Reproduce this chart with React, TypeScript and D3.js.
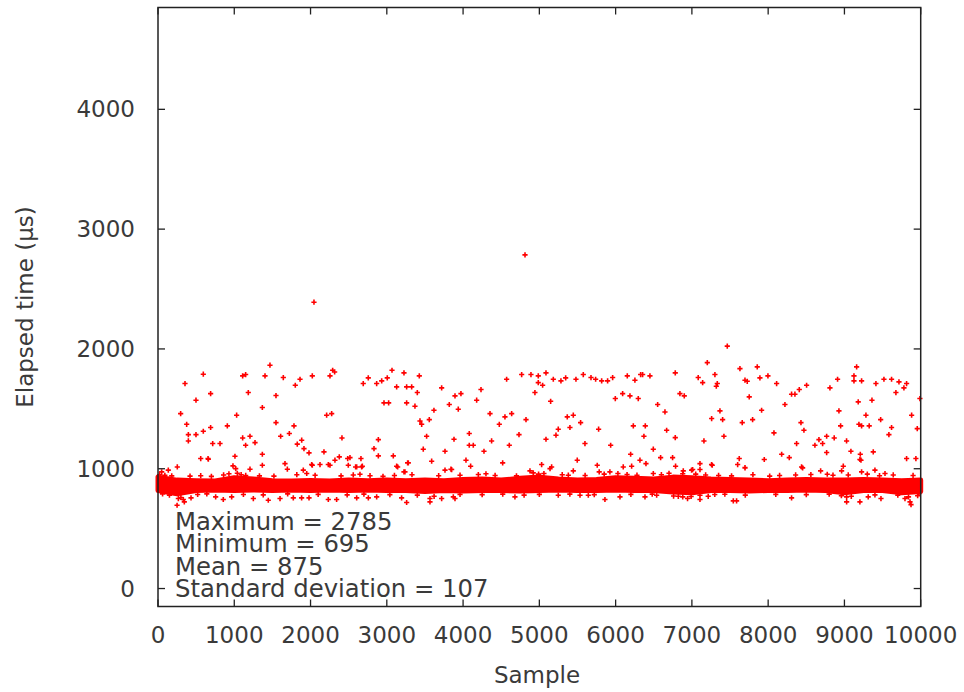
import React from 'react';
import * as d3 from 'd3';

// dense band of samples: envelope read every 250 samples
const bandSamples = d3.range(0, 10001, 250);
const bandTop = [930, 905, 900, 897, 925, 915, 900, 897, 902, 897, 905, 900, 905, 900, 905, 900, 910, 915, 905, 920, 930,
    915, 905, 910, 925, 920, 915, 930, 925, 915, 910, 905, 900, 905, 910, 905, 905, 910, 905, 900, 905];
const bandBottom = [818, 790, 818, 822, 818, 822, 818, 822, 818, 822, 818, 822, 818, 818, 810, 818, 815, 818, 818, 815, 818,
    822, 818, 818, 822, 818, 818, 805, 800, 818, 818, 815, 818, 818, 822, 818, 800, 818, 818, 800, 810];

// isolated samples above the band [sample, µs]
const highPoints: [number, number][] = [
    [354, 1711], [594, 1789], [498, 1572], [690, 1627], [297, 1460], [376, 1371], [398, 1285], [398, 1232], [498, 1285], [594, 1313],
    [690, 1344], [717, 1210], [813, 1210], [560, 1085], [656, 1085], [909, 1358], [1031, 1447], [1009, 1104], [1110, 1775], [1149, 1786],
    [1184, 1636], [1110, 1257], [1206, 1271], [1149, 1196], [1272, 1218], [1403, 1775], [1468, 1864], [1368, 1511], [1547, 1611], [1547, 1385],
    [1368, 1121], [1368, 1029], [1608, 1271], [1643, 1761], [1722, 1294], [1665, 1043], [1783, 1358], [1800, 1697], [1862, 1747], [1826, 1205],
    [1884, 1238], [1914, 1168], [1980, 1132], [2023, 1775], [2023, 1029], [2045, 2390], [2211, 1447], [2277, 1460], [2176, 1141], [2255, 1775],
    [2290, 1822], [2316, 1808], [2255, 1029], [2320, 1071], [2377, 1099], [2412, 1257], [2487, 1085], [2517, 1093], [2591, 1015], [2661, 1085],
    [2679, 1021], [2691, 1711], [2757, 1758], [2832, 1168], [2889, 1243], [2889, 1107], [2867, 1711], [2933, 1733], [3006, 1758], [3068, 1822],
    [2963, 1550], [3024, 1550], [3129, 1683], [3085, 1107], [3129, 1021], [3225, 1800], [3260, 1683], [3326, 1683], [3426, 1775], [3400, 1636],
    [3260, 1550], [3369, 1522], [3282, 1049], [3225, 974], [3435, 1399], [3457, 1371], [3557, 1410], [3522, 1271], [3618, 1488], [3478, 1163],
    [3588, 1063], [3719, 1675], [3763, 1146], [3819, 1536], [3894, 1608], [3972, 1627], [3937, 1497], [3881, 1246], [3841, 996], [4081, 1294],
    [4081, 1196], [4134, 1196], [4038, 1071], [4099, 1021], [4178, 1572], [4235, 1661], [4274, 1146], [4353, 1460], [4475, 1371], [4549, 1433],
    [4637, 1460], [4571, 1747], [4374, 1232], [4606, 1196], [4519, 1049], [4733, 1285], [4768, 1786], [4812, 2785], [4825, 1410], [4890, 1786],
    [4986, 1775], [4986, 1719], [4942, 1636], [5087, 1800], [5030, 1035], [5087, 1246],
    [5043, 1697], [5148, 1563], [5183, 1747], [5283, 1733], [5345, 1758], [5218, 1280], [5248, 1330], [5366, 1433], [5445, 1447], [5401, 1344],
    [5480, 1747], [5541, 1385], [5576, 1786], [5598, 1210], [5677, 1761], [5738, 1747], [5817, 1733], [5895, 1733], [5961, 1761], [5777, 1330],
    [5935, 1196], [5996, 1586], [6092, 1627], [6153, 1775], [6188, 1608], [6253, 1739], [6297, 1586], [6328, 1786], [6354, 1786], [6450, 1775],
    [6232, 1358], [6389, 1358], [6371, 1271], [6197, 1121], [6319, 1071], [6398, 1043], [6494, 1163], [6551, 1536], [6590, 1093], [6647, 1474],
    [6669, 1321], [6747, 1093], [6782, 1260], [6782, 1800], [6843, 1627], [6900, 1608], [7010, 993], [7083, 1761], [7141, 1719], [7106, 1043],
    [7158, 1232], [7202, 1886], [7259, 1419], [7302, 1786], [7333, 1711], [7320, 1689], [7368, 1483], [7403, 1410], [7420, 1271], [7267, 1029],
    [7464, 2023], [7630, 1836], [7621, 1085], [7600, 1035], [7696, 1739], [7726, 1730], [7752, 1600], [7660, 1385], [7796, 1410], [7696, 1010],
    [7857, 1850], [7892, 1758], [7997, 1775], [7914, 1488], [8076, 1299], [8111, 1711], [8177, 1121], [8220, 1536], [8277, 1093], [8307, 1622],
    [8351, 1622], [8408, 1661], [8504, 1697], [8373, 1210], [8430, 1385], [8469, 1321], [8452, 1007], [8613, 1196], [8666, 1243], [8714, 1210],
    [8767, 1271], [8767, 1135], [8866, 1257], [8810, 1675], [8910, 1747], [8928, 1483], [8950, 1358], [9028, 1232], [9085, 1146], [8985, 1021],
    [9125, 1775], [9125, 1733], [9160, 1850], [9225, 1733], [9181, 1558], [9190, 1371], [9225, 1358], [9282, 1447], [9325, 1358], [9361, 1572],
    [9208, 1121], [9217, 1071], [9378, 1141], [9413, 1711], [9475, 1410], [9518, 1747], [9618, 1747], [9583, 1285], [9618, 1344], [9675, 1636],
    [9715, 1725], [9780, 1675], [9815, 1711], [9881, 1447], [9937, 1085], [9955, 1335], [9990, 1586],
    [253, 1015], [660, 1079], [983, 1024], [1019, 1001], [1206, 996], [1696, 996], [1905, 988], [2015, 1035], [2124, 1035], [2233, 1035],
    [2495, 1029], [2605, 1015], [2670, 1015], [2648, 954], [3142, 1015], [3273, 1049], [3238, 974], [135, 988], [48, 974], [3763, 988],
    [3850, 993], [5140, 1001], [5445, 982], [5497, 1071], [5759, 1029], [5785, 974], [5925, 974], [6100, 1015], [6210, 1021], [6494, 960],
    [4877, 982], [5161, 1015], [6786, 1021], [6887, 982], [6996, 988], [7106, 993], [7258, 1035], [7697, 1007], [7949, 1077], [8438, 1015],
    [8688, 982], [8775, 954], [8963, 982], [9203, 1077], [9225, 974], [9400, 988], [9532, 960], [9815, 1085],
];

// samples hugging the band edges (ragged fringe)
const edgePoints: [number, number][] = [
    [20, 950], [90, 945], [180, 940], [420, 938], [560, 942], [700, 936], [860, 948], [930, 958], [1040, 962], [1090, 950],
    [1150, 944], [1330, 940], [1520, 938], [1820, 950], [1950, 960], [2060, 945], [2400, 940], [2560, 948], [2780, 942], [2950, 936],
    [3100, 944], [3330, 950], [3680, 942], [3960, 946], [4200, 952], [4300, 958], [4420, 944], [4700, 940], [4920, 965], [4990, 955],
    [5060, 960], [5300, 950], [5380, 946], [5600, 944], [5850, 955], [6030, 960], [6150, 952], [6280, 946], [6600, 950], [6700, 962],
    [6880, 958], [7050, 955], [7180, 948], [7350, 944], [7520, 940], [7800, 950], [8020, 938], [8150, 944], [8360, 948], [8560, 952],
    [8850, 946], [9050, 948], [9300, 955], [9460, 942], [9640, 948], [9900, 944],
    [60, 790], [150, 780], [300, 760], [520, 785], [640, 790], [1120, 785], [1380, 782], [1700, 790], [2100, 786], [2480, 782],
    [2700, 788], [3040, 784], [3400, 780], [3620, 770], [3960, 786], [4250, 784], [4520, 788], [4800, 780], [5000, 786], [5400, 788],
    [5720, 784], [6200, 786], [6480, 788], [6760, 772], [6880, 765], [6990, 768], [7300, 785], [7700, 780], [8100, 786], [8500, 784],
    [8800, 788], [8960, 775], [9090, 770], [9400, 782], [9700, 780], [9840, 765], [9960, 775],
];

// isolated samples below the band
const lowPoints: [number, number][] = [
    [250, 695], [267, 751], [332, 743], [433, 757], [345, 723], [756, 765], [856, 743], [966, 765], [1250, 751], [1446, 737],
    [1600, 751], [1774, 757], [1883, 757], [1980, 757], [2233, 743], [2342, 743], [2605, 757], [2758, 757], [2867, 765], [3194, 757],
    [3260, 718], [3566, 751], [3566, 723], [3719, 751], [3872, 765], [3894, 751], [4680, 765], [5248, 779], [5533, 779], [5642, 779],
    [5860, 743], [6057, 765], [6385, 765], [6538, 779], [6822, 770], [6943, 751], [7106, 779], [7106, 743], [7214, 770], [7432, 787],
    [7543, 732], [7586, 732], [8307, 757], [9029, 765], [9029, 723], [9203, 723], [9312, 765], [9479, 751], [9794, 751], [9860, 723],
    [9873, 700], [9978, 793],
];

const xTicks = d3.range(0, 10001, 1000);
const yTicks = [0, 1000, 2000, 3000, 4000];
const statLines = ['Maximum = 2785', 'Minimum = 695', 'Mean = 875', 'Standard deviation = 107'];

const W = 964, H = 692;
const left = 158, right = 920.7, top = 7.5, bottom = 606.5;
const FONT = 'DejaVu Sans, Verdana, sans-serif';
const TEXT = '#3a3a3a';

const App = () => {
    const x = d3.scaleLinear().domain([0, 10000]).range([left, right]);
    const y = d3.scaleLinear().domain([-150, 4850]).range([bottom, top]);

    const area = d3.area<number>()
        .x((_, i) => x(bandSamples[i]))
        .y0((_, i) => y(bandBottom[i]))
        .y1((_, i) => y(bandTop[i]));

    const r = 2.6;
    const plus = [...highPoints, ...edgePoints, ...lowPoints]
        .map(([s, v]) => `M${x(s) - r},${y(v)}h${2 * r}M${x(s)},${y(v) - r}v${2 * r}`)
        .join('');

    const tick = 7;

    return (
        <svg width={W} height={H} style={{ display: 'block', background: '#fff' }}>
            <style>{'body{margin:0}'}</style>

            {/* dense band */}
            <path d={area(bandSamples) || ''} fill="#ff0000" stroke="#ff0000" strokeWidth={5} strokeLinejoin="round" />
            <path d={plus} fill="none" stroke="#ff0000" strokeWidth={1.6} />

            {/* frame */}
            <rect x={left} y={top} width={right - left} height={bottom - top} fill="none" stroke="#222" strokeWidth={1.5} />
            {xTicks.map(t => (
                <g key={'x' + t}>
                    <line x1={x(t)} x2={x(t)} y1={bottom} y2={bottom - tick} stroke="#222" strokeWidth={1.3} />
                    <line x1={x(t)} x2={x(t)} y1={top} y2={top + tick} stroke="#222" strokeWidth={1.3} />
                    <text x={x(t)} y={643} textAnchor="middle" fontFamily={FONT} fontSize={23} fill={TEXT}>{t}</text>
                </g>
            ))}
            {yTicks.map(t => (
                <g key={'y' + t}>
                    <line x1={left} x2={left + tick} y1={y(t)} y2={y(t)} stroke="#222" strokeWidth={1.3} />
                    <line x1={right} x2={right - tick} y1={y(t)} y2={y(t)} stroke="#222" strokeWidth={1.3} />
                    <text x={135} y={y(t) + 8} textAnchor="end" fontFamily={FONT} fontSize={23} fill={TEXT}>{t}</text>
                </g>
            ))}

            <text x={537} y={683} textAnchor="middle" fontFamily={FONT} fontSize={23} fill={TEXT}>Sample</text>
            <text transform={`translate(33,${(top + bottom) / 2}) rotate(-90)`} textAnchor="middle"
                fontFamily={FONT} fontSize={23} fill={TEXT}>Elapsed time (μs)</text>

            {statLines.map((s, i) => (
                <text key={s} x={175} y={529.5 + i * 22.5} fontFamily={FONT} fontSize={24.3} fill={TEXT}>{s}</text>
            ))}
        </svg>
    );
};

export default App;
